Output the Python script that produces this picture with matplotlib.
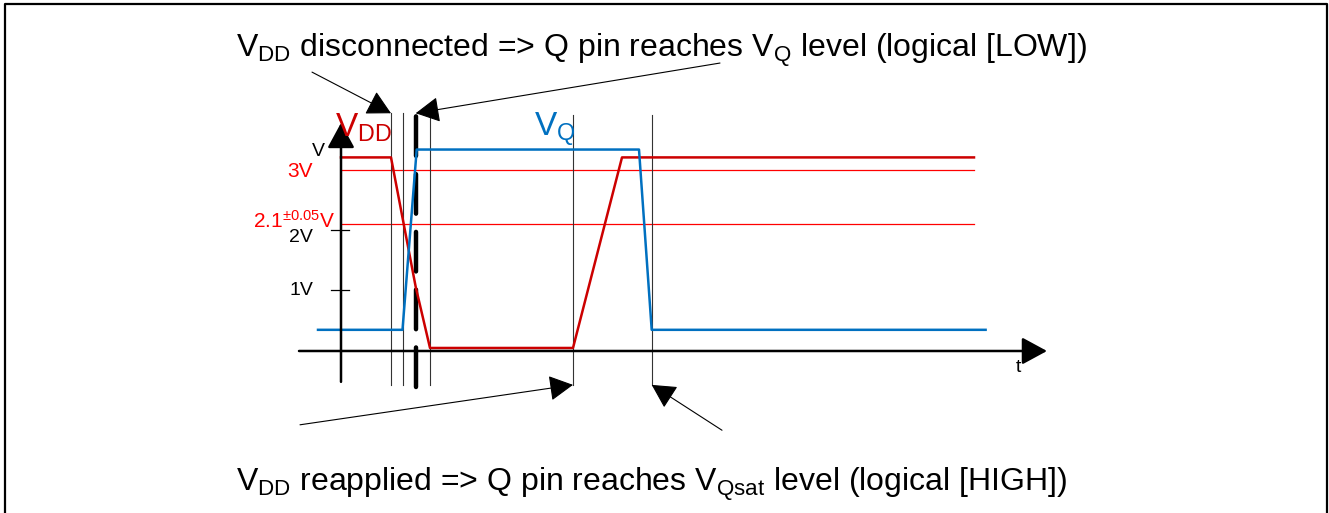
import matplotlib
matplotlib.use('Agg')
import matplotlib.pyplot as plt
from matplotlib.lines import Line2D

plt.rcParams['font.family'] = ['Liberation Sans', 'DejaVu Sans']
plt.rcParams['mathtext.fontset'] = 'custom'
plt.rcParams['mathtext.rm'] = 'Liberation Sans'
plt.rcParams['mathtext.it'] = 'Liberation Sans'
plt.rcParams['mathtext.sf'] = 'Liberation Sans'

# supply voltage VDD and output VQ (time in arbitrary units, volts)
t_vdd = [0.0, 5.0, 7.47, 8.9, 23.2, 28.1, 63.3]
v_vdd = [3.2, 3.2, 1.06, 0.05, 0.05, 3.2, 3.2]
t_q = [-2.3, 6.15, 7.57, 29.8, 31.07, 64.46]
v_q = [0.35, 0.35, 3.33, 3.33, 0.35, 0.35]

# thresholds drawn as thin red lines
v_ref = [3.0, 2.1]
ref_labels = ['3V', r'2.1$^{\mathrm{\pm 0.05}}$V']
# y ticks
v_ticks = [1, 2]
tick_labels = ['1V', '2V']

# event markers
t_markers = [5.0, 6.15, 8.9, 23.2, 31.07]
t_disc = 7.47
t_end = 63.3

W, H = 1329, 513
DARKRED = '#cc0000'
RED = '#ff0000'
BLUE = '#0070c0'

fig = plt.figure(figsize=(W / 100, H / 100), dpi=100)
ax = fig.add_axes([0, 0, 1, 1])
ax.set_xlim(-34.1, 98.8)
ax.set_ylim(-2.678, 5.802)
ax.axis('off')

# frame around the figure (open at the bottom)
fig.add_artist(Line2D([5 / W, 5 / W, 1327 / W, 1327 / W], [0, 1 - 4 / H, 1 - 4 / H, 0],
                      transform=fig.transFigure, color='black', lw=1.6))

# thresholds
for v in v_ref:
    ax.plot([0, t_end], [v, v], color=RED, lw=0.9)

# markers
for t in t_markers[:3]:
    ax.plot([t, t], [-0.56, 3.93], color='#333333', lw=0.8)
for t in t_markers[3:]:
    ax.plot([t, t], [-0.56, 3.9], color='#333333', lw=0.8)
ax.plot([t_disc, t_disc], [-0.6, 3.9], color='black', lw=3.2,
        linestyle=(0, (8.9, 4.1)), dash_capstyle='round')

# axes with arrows
axis_kw = dict(arrowstyle='-|>,head_length=0.7,head_width=0.38', mutation_scale=22,
               lw=1.8, color='black', shrinkA=0, shrinkB=0)
ax.annotate('', xy=(0, 3.77), xytext=(0, -0.51), arrowprops=axis_kw)
ax.annotate('', xy=(70.6, 0), xytext=(-4.2, 0), arrowprops=axis_kw)
for v in v_ticks:
    ax.plot([-1.0, 0.8], [v, v], color='black', lw=0.9)

# curves
ax.plot(t_vdd, v_vdd, color=DARKRED, lw=1.8)
ax.plot(t_q, v_q, color=BLUE, lw=1.8)

# axis labels
ax.text(-2.8, v_ticks[0], tick_labels[0], ha='right', va='center', fontsize=14, color='black')
ax.text(-2.8, v_ticks[1] - 0.13, tick_labels[1], ha='right', va='center', fontsize=14, color='black')
ax.text(-2.8, v_ref[0] - 0.03, ref_labels[0], ha='right', va='center', fontsize=15, color=RED)
ax.text(-0.6, v_ref[1] + 0.05, ref_labels[1], ha='right', va='center', fontsize=15, color=RED)
ax.text(-2.3, 3.29, 'V', ha='center', va='center', fontsize=14, color='black')
ax.text(67.7, -0.28, 't', ha='center', va='center', fontsize=14, color='black')
ax.text(-0.6, 3.55, r'V$_{\mathrm{DD}}$', ha='left', va='baseline', fontsize=24, color=DARKRED)
ax.text(19.3, 3.55, r'V$_{\mathrm{Q}}$', ha='left', va='baseline', fontsize=24, color=BLUE)

# callouts
arrow_kw = dict(arrowstyle='-|>,head_length=0.75,head_width=0.4', mutation_scale=20,
                lw=0.8, color='black', shrinkA=0, shrinkB=0)
ax.annotate('', xy=(t_markers[0], 3.93), xytext=(-2.9, 4.61), arrowprops=arrow_kw)
ax.annotate('', xy=(t_disc, 3.93), xytext=(37.9, 4.76), arrowprops=arrow_kw)
ax.annotate('', xy=(t_markers[3], -0.56), xytext=(-4.1, -1.22), arrowprops=arrow_kw)
ax.annotate('', xy=(t_markers[4], -0.56), xytext=(38.1, -1.31), arrowprops=arrow_kw)

fig.text(236 / W, 1 - 57 / H,
         r'V$_{\mathrm{DD}}$ disconnected => Q pin reaches V$_{\mathrm{Q}}$ level (logical [LOW])',
         ha='left', va='baseline', fontsize=23)
fig.text(236 / W, 1 - 491 / H,
         r'V$_{\mathrm{DD}}$ reapplied => Q pin reaches V$_{\mathrm{Qsat}}$ level (logical [HIGH])',
         ha='left', va='baseline', fontsize=23)

fig.savefig('out.png', dpi=100)
